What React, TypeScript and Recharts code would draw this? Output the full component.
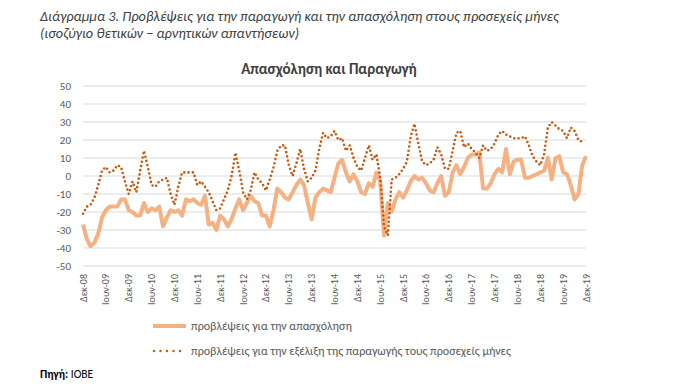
import React from 'react';
import { LineChart, Line, XAxis, YAxis, CartesianGrid } from 'recharts';

const monthNames = ['Ιαν', 'Φεβ', 'Μαρ', 'Απρ', 'Μαϊ', 'Ιουν', 'Ιουλ', 'Αυγ', 'Σεπ', 'Οκτ', 'Νοε', 'Δεκ'];

// Dec-08 .. Dec-19 (133 months)
const employment = [
  -27, -35, -39, -37, -32, -23, -19, -17, -17, -17, -13, -13,
  -19, -20, -22, -22, -15, -20, -18, -19, -17, -28, -23, -19,
  -20, -19, -22, -13, -14, -13, -15, -16, -11, -27, -26, -30,
  -22, -24, -28, -24, -18, -13, -19, -15, -11, -14, -15, -22,
  -22, -28, -19, -7, -9, -12, -13, -9, -5, -2, -5, -15,
  -24, -12, -9, -7, -8, -9, -1, 7, 9, 2, -3, 1,
  -3, -9, -10, -4, -6, 2, -3, -33, -15, -20, -13, -9,
  -12, -8, -3, 0, -2, -1, -4, -8, -9, -4, 0, -11,
  -9, 2, 6, 1, 5, 10, 12, 12, 13, -7, -7, -4,
  1, 4, 2, 15, 1, 8, 9, 9, -1, -1, 0, 1,
  2, 3, 10, -2, 10, 11, 2, 1, -5, -13, -10, 6,
  11,
];

const production = [
  -21, -17, -16, -12, -5, 3, 5, 2, 3, 6, 5, -3,
  -10, -3, -9, 3, 14, 5, -5, -6, -3, -2, -1, -10,
  -16, -6, 2, 2, 2, 2, -5, -3, -6, -9, -14, -19,
  -18, -13, -8, 0, 13, 3, -9, -13, -8, 2, -2, -4,
  -8, -2, 5, 14, 17, 17, 6, 0, 7, 15, 4, -3,
  -1, 3, 15, 24, 21, 22, 25, 20, 21, 14, 17, 10,
  5, 3, 10, 17, 9, 12, -1, -28, -33, -2, -1, 1,
  4, 8, 22, 29, 18, 8, 6, 7, 9, 16, 12, 4,
  4, 14, 24, 25, 16, 18, 15, 13, 10, 17, 14, 15,
  18, 23, 25, 23, 22, 21, 21, 21, 22, 17, 11, 8,
  6, 12, 27, 30, 28, 26, 25, 21, 27, 25, 20, 19,
  null,
];

const yTicks = [-50, -40, -30, -20, -10, 0, 10, 20, 30, 40, 50];

const categories = employment.map((_, i) => {
  const m = (11 + i) % 12;
  const yr = 8 + Math.floor((11 + i) / 12);
  return `${monthNames[m]}-${String(yr).padStart(2, '0')}`;
});

const data = categories.map((c, i) => ({
  month: c,
  employment: employment[i],
  production: production[i],
}));

const FONT = 'Calibri, Carlito, "Liberation Sans", Arial, sans-serif';

const XTick = (props: any) => {
  const { x, y, payload } = props;
  return (
    <text
      x={x}
      y={y}
      transform={`rotate(-90 ${x} ${y})`}
      textAnchor="end"
      dominantBaseline="central"
      fontSize={10}
      fill="#595959"
      fontFamily={FONT}
    >
      {payload.value}
    </text>
  );
};

const YTick = (props: any) => {
  const { x, y, payload } = props;
  return (
    <text x={71} y={y} textAnchor="end" dominantBaseline="central" fontSize={11} fill="#595959" fontFamily={FONT}>
      {payload.value}
    </text>
  );
};

export default function App() {
  return (
    <div style={{ position: 'relative', width: 685, height: 389, background: '#fff', fontFamily: FONT, overflow: 'hidden' }}>
      <style>{'body{margin:0;}'}</style>
      <div style={{ position: 'absolute', left: 40, top: 8, fontSize: 14.3, fontStyle: 'italic', color: '#404040', lineHeight: '17px', whiteSpace: 'nowrap' }}>
        Διάγραμμα 3. Προβλέψεις για την παραγωγή και την απασχόληση στους προσεχείς μήνες
        <br />
        (ισοζύγιο θετικών – αρνητικών απαντήσεων)
      </div>
      <div style={{ position: 'absolute', left: 0, width: 658, top: 60, textAlign: 'center', fontSize: 15, fontWeight: 'bold', color: '#404040', whiteSpace: 'nowrap' }}>
        Απασχόληση και Παραγωγή
      </div>
      <div style={{ position: 'absolute', left: 0, top: 0 }}>
        <LineChart
          width={685}
          height={389}
          data={data}
          margin={{ top: 86, right: 99, bottom: 83, left: 0 }}
        >
          <CartesianGrid horizontal={true} vertical={false} stroke="#d9d9d9" strokeWidth={1} />
          <XAxis
            dataKey="month"
            interval={5}
            axisLine={false}
            tickLine={false}
            height={40}
            tick={<XTick />}
            tickMargin={2}
          />
          <YAxis
            domain={[-50, 50]}
            ticks={yTicks}
            width={83}
            axisLine={false}
            tickLine={false}
            tick={<YTick />}
            interval={0}
          />
          <Line
            type="linear"
            dataKey="employment"
            stroke="#F4B183"
            strokeWidth={4}
            dot={false}
            isAnimationActive={false}
            strokeLinejoin="round"
          />
          <Line
            type="linear"
            dataKey="production"
            stroke="#C55A11"
            strokeWidth={2.6}
            strokeDasharray="0 4.3"
            strokeLinecap="round"
            dot={false}
            isAnimationActive={false}
            connectNulls={false}
          />
        </LineChart>
      </div>
      <div style={{ position: 'absolute', left: 152, top: 318, fontSize: 12, color: '#595959', lineHeight: '16px' }}>
        <div style={{ display: 'flex', alignItems: 'center', height: 16 }}>
          <svg width={36} height={8} style={{ marginRight: 3 }}>
            <line x1={1} y1={4} x2={34} y2={4} stroke="#F4B183" strokeWidth={4} />
          </svg>
          <span>προβλέψεις για την απασχόληση</span>
        </div>
        <div style={{ display: 'flex', alignItems: 'center', height: 16, marginTop: 9 }}>
          <svg width={36} height={8} style={{ marginRight: 3 }}>
            <line x1={2} y1={4} x2={33} y2={4} stroke="#C55A11" strokeWidth={2.5} strokeDasharray="0 6.5" strokeLinecap="round" />
          </svg>
          <span>προβλέψεις για την εξέλιξη της παραγωγής τους προσεχείς μήνες</span>
        </div>
      </div>
      <div style={{ position: 'absolute', left: 40, top: 367, fontSize: 11.5, color: '#000' }}>
        <b>Πηγή:</b> ΙΟΒΕ
      </div>
    </div>
  );
}
